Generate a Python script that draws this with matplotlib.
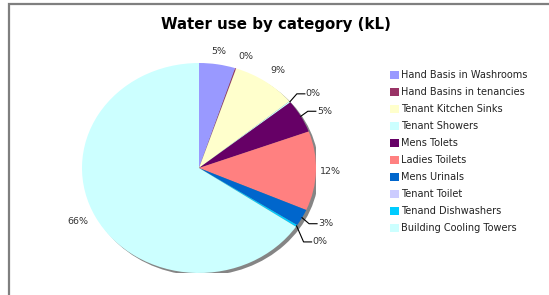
import numpy as np
import matplotlib
matplotlib.use("Agg")
import matplotlib.pyplot as plt
from matplotlib.patches import Circle, Rectangle

categories = ["Hand Basis in Washrooms", "Hand Basins in tenancies", "Tenant Kitchen Sinks",
              "Tenant Showers", "Mens Tolets", "Ladies Toilets", "Mens Urinals",
              "Tenant Toilet", "Tenand Dishwashers", "Building Cooling Towers"]
values = [5.0, 0.15, 8.9, 0.2, 5.1, 12.2, 2.6, 0.0, 0.3, 65.55]
colors = ["#9999FF", "#993366", "#FFFFCC", "#CCFFFF", "#660066", "#FF8080",
          "#0066CC", "#CCCCFF", "#00CCFF", "#CCFFFF"]
# leader line vertical offset (px) for small slices; None = plain label
leader_dy = [None, None, None, 8, 5, None, -6, None, -16, None]

W, H = 549, 295
fig = plt.figure(figsize=(W / 100, H / 100), dpi=100)

# overlay axes in pixel coordinates
ov = fig.add_axes([0, 0, 1, 1], zorder=3)
ov.set_xlim(0, W)
ov.set_ylim(0, H)
ov.axis("off")
ov.patch.set_alpha(0)

# pie axes (slightly elliptical as in the reference)
cx, cy, RX, RY = 199, 127, 117, 105
pa = fig.add_axes([(cx - RX) / W, (cy - RY) / H, 2 * RX / W, 2 * RY / H], zorder=2)
pa.add_patch(Circle((0.025, -0.025), 1, facecolor="#858585", edgecolor="none", zorder=1))
wedges, _ = pa.pie(values, colors=colors, startangle=90, counterclock=False,
                   radius=1, wedgeprops=dict(linewidth=0, zorder=2))
pa.set_aspect("auto")
pa.set_xlim(-1, 1)
pa.set_ylim(-1, 1)
pa.axis("off")

# chart area border
bg = fig.add_axes([0, 0, 1, 1], zorder=1)
bg.set_xlim(0, W)
bg.set_ylim(0, H)
bg.axis("off")
bg.add_patch(Rectangle((8.5, -10), 600, 301, fill=False, edgecolor="#7f7f7f", lw=1.6))

total = sum(values)
tcol = "#333333"
fs = 6.8
for w, v, ld in zip(wedges, values, leader_dy):
    if v <= 0:
        continue
    lab = f"{v / total * 100:.0f}%"
    mid = np.deg2rad((w.theta1 + w.theta2) / 2)
    c, s = np.cos(mid), np.sin(mid)
    ex, ey = cx + RX * c, cy + RY * s
    if ld is not None:
        kx, ky = ex + 7, ey + ld
        ov.plot([ex, kx, kx + 8], [ey, ky, ky], color="black", lw=0.8)
        ov.text(kx + 9, ky, lab, ha="left", va="center", fontsize=fs, color=tcol)
    else:
        pad = 8
        tx, ty = ex + pad * c, ey + pad * s
        ha = "left" if c > 0.2 else ("right" if c < -0.2 else "center")
        va = "bottom" if s > 0.5 else ("top" if s < -0.5 else "center")
        if ha == "left" and va == "center":
            tx -= 4
        ov.text(tx, ty, lab, ha=ha, va=va, fontsize=fs, color=tcol)

ov.text(275.5, 271, "Water use by category (kL)", ha="center", va="center",
        fontsize=10.8, fontweight="bold", color="black")

leg = fig.legend(wedges, categories, loc="upper left",
                 bbox_to_anchor=(390 / W, 1 - 70 / H), frameon=False,
                 fontsize=7, handlelength=0.9, handleheight=0.9,
                 handletextpad=0.25, labelspacing=0.72, borderpad=0, borderaxespad=0)
leg.set_zorder(4)
for t in leg.get_texts():
    t.set_color("#222222")

fig.savefig("out.png", dpi=100)
